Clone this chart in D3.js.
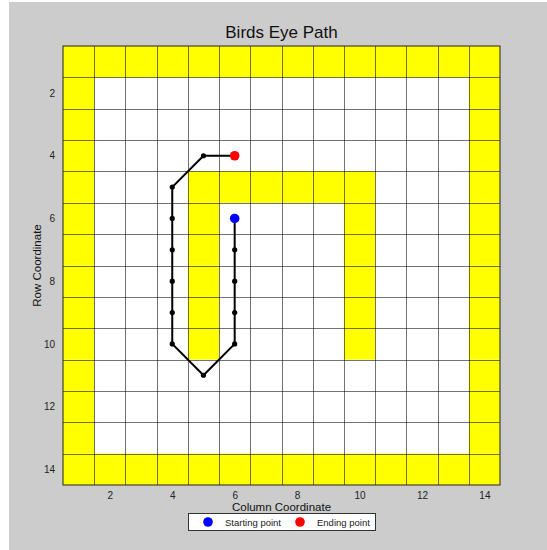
<!DOCTYPE html>
<html>
<head>
<meta charset="utf-8">
<script src="https://cdn.jsdelivr.net/npm/d3@7"></script>
<style>
  html, body { margin: 0; padding: 0; background: #fff; }
  svg { display: block; font-family: "Liberation Sans", Arial, sans-serif; }
</style>
</head>
<body>
<svg id="chart"></svg>
<script>
// grid size (columns x rows)
const nCols = 14;
const nRows = 14;

// wall cells (yellow), as [col, row]
const wallCells = [];
for (let c = 1; c <= 14; c++) { wallCells.push([c, 1]); wallCells.push([c, 14]); }
for (let r = 2; r <= 13; r++) { wallCells.push([1, r]); wallCells.push([14, r]); }
const innerTop = [[5, 5], [6, 5], [7, 5], [8, 5], [9, 5], [10, 5]];
const innerLeft = [[5, 6], [5, 7], [5, 8], [5, 9], [5, 10]];
const innerRight = [[10, 6], [10, 7], [10, 8], [10, 9], [10, 10]];
wallCells.push(...innerTop, ...innerLeft, ...innerRight);

// path taken, column / row coordinates
const pathCols = [6, 6, 6, 6, 6, 5, 4, 4, 4, 4, 4, 4, 5, 6];
const pathRows = [6, 7, 8, 9, 10, 11, 10, 9, 8, 7, 6, 5, 4, 4];

const tickVals = [2, 4, 6, 8, 10, 12, 14];
const legendItems = [
    { label: 'Starting point', color: '#0000ff' },
    { label: 'Ending point', color: '#ff0000' }
];

let width = 547,
    height = 550;

let margin = { left: 63, right: 47, top: 46, bottom: 65 };

let svg = d3.select('#chart')
    .attr('width', width)
    .attr('height', height);

// figure background
svg.append('rect')
    .attr('x', 9).attr('y', 2)
    .attr('width', width - 9).attr('height', height - 2)
    .attr('fill', '#cccccc');

let scaleX = d3.scaleLinear()
    .domain([0.5, nCols + 0.5])
    .range([margin.left, width - margin.right]);

let scaleY = d3.scaleLinear()
    .domain([0.5, nRows + 0.5])
    .range([margin.top, height - margin.bottom]);

let plot = svg.append('g');

plot.append('rect')
    .attr('x', scaleX(0.5)).attr('y', scaleY(0.5))
    .attr('width', scaleX(nCols + 0.5) - scaleX(0.5))
    .attr('height', scaleY(nRows + 0.5) - scaleY(0.5))
    .attr('fill', '#ffffff');

// yellow cells
plot.append('g')
    .selectAll('rect')
    .data(wallCells)
    .enter()
    .append('rect')
    .attr('x', d => scaleX(d[0] - 0.5))
    .attr('y', d => scaleY(d[1] - 0.5))
    .attr('width', scaleX(1.5) - scaleX(0.5))
    .attr('height', scaleY(1.5) - scaleY(0.5))
    .attr('fill', '#ffff00');

// grid lines on cell boundaries
let gridX = d3.range(1.5, nCols, 1);
let gridY = d3.range(1.5, nRows, 1);
plot.append('g')
    .selectAll('line')
    .data(gridX)
    .enter()
    .append('line')
    .attr('x1', d => Math.round(scaleX(d)) + 0.5)
    .attr('x2', d => Math.round(scaleX(d)) + 0.5)
    .attr('y1', scaleY(0.5))
    .attr('y2', scaleY(nRows + 0.5))
    .attr('stroke', '#000')
    .attr('stroke-opacity', 0.55);
plot.append('g')
    .selectAll('line')
    .data(gridY)
    .enter()
    .append('line')
    .attr('y1', d => Math.round(scaleY(d)) + 0.5)
    .attr('y2', d => Math.round(scaleY(d)) + 0.5)
    .attr('x1', scaleX(0.5))
    .attr('x2', scaleX(nCols + 0.5))
    .attr('stroke', '#000')
    .attr('stroke-opacity', 0.55);

// frame
plot.append('rect')
    .attr('x', scaleX(0.5)).attr('y', scaleY(0.5))
    .attr('width', scaleX(nCols + 0.5) - scaleX(0.5))
    .attr('height', scaleY(nRows + 0.5) - scaleY(0.5))
    .attr('fill', 'none')
    .attr('stroke', '#222')
    .attr('stroke-width', 1);

// axes
let xAxis = d3.axisBottom(scaleX).tickValues(tickVals).tickSize(0).tickPadding(7);
let yAxis = d3.axisLeft(scaleY).tickValues(tickVals).tickSize(0).tickPadding(8);

let xAxisG = svg.append('g')
    .attr('transform', `translate(0, ${height - margin.bottom})`)
    .call(xAxis);
let yAxisG = svg.append('g')
    .attr('transform', `translate(${margin.left}, 0)`)
    .call(yAxis);
[xAxisG, yAxisG].forEach(g => {
    g.select('.domain').remove();
    g.selectAll('text')
        .attr('font-family', '"Liberation Sans", Arial, sans-serif')
        .attr('font-size', 10)
        .attr('fill', '#222');
});

// path
let line = d3.line()
    .x((d, i) => scaleX(pathCols[i]))
    .y((d, i) => scaleY(pathRows[i]));

plot.append('path')
    .datum(pathCols)
    .attr('d', line)
    .attr('fill', 'none')
    .attr('stroke', '#000')
    .attr('stroke-width', 2);

plot.append('g')
    .selectAll('circle')
    .data(pathCols)
    .enter()
    .append('circle')
    .attr('r', 2.6)
    .attr('cx', (d, i) => scaleX(pathCols[i]))
    .attr('cy', (d, i) => scaleY(pathRows[i]))
    .attr('fill', '#000');

let last = pathCols.length - 1;
plot.append('circle')
    .attr('cx', scaleX(pathCols[0])).attr('cy', scaleY(pathRows[0]))
    .attr('r', 4.8).attr('fill', legendItems[0].color);
plot.append('circle')
    .attr('cx', scaleX(pathCols[last])).attr('cy', scaleY(pathRows[last]))
    .attr('r', 4.8).attr('fill', legendItems[1].color);

// title and labels
svg.append('text')
    .attr('x', (scaleX(0.5) + scaleX(nCols + 0.5)) / 2)
    .attr('y', 38)
    .attr('text-anchor', 'middle')
    .attr('font-size', 17)
    .attr('fill', '#111')
    .text('Birds Eye Path');

svg.append('text')
    .attr('x', (scaleX(0.5) + scaleX(nCols + 0.5)) / 2)
    .attr('y', 511)
    .attr('text-anchor', 'middle')
    .attr('font-size', 11.5)
    .attr('fill', '#111')
    .text('Column Coordinate');

svg.append('text')
    .attr('transform', `translate(41, ${(scaleY(0.5) + scaleY(nRows + 0.5)) / 2}) rotate(-90)`)
    .attr('text-anchor', 'middle')
    .attr('font-size', 11.5)
    .attr('fill', '#111')
    .text('Row Coordinate');

// legend
let legend = svg.append('g').attr('transform', 'translate(188, 513)');
legend.append('rect')
    .attr('x', 0.5).attr('y', 0.5)
    .attr('width', 187).attr('height', 17)
    .attr('fill', '#fff')
    .attr('stroke', '#333');
let legendX = [20, 112];
legend.selectAll('g.item')
    .data(legendItems)
    .enter()
    .append('g')
    .attr('class', 'item')
    .attr('transform', (d, i) => `translate(${legendX[i]}, 9)`)
    .each(function(d) {
        let g = d3.select(this);
        g.append('circle').attr('r', 4.8).attr('fill', d.color);
        g.append('text')
            .attr('x', 17).attr('y', 3.5)
            .attr('font-size', 9.5)
            .attr('fill', '#222')
            .text(d.label);
    });
</script>
</body>
</html>
